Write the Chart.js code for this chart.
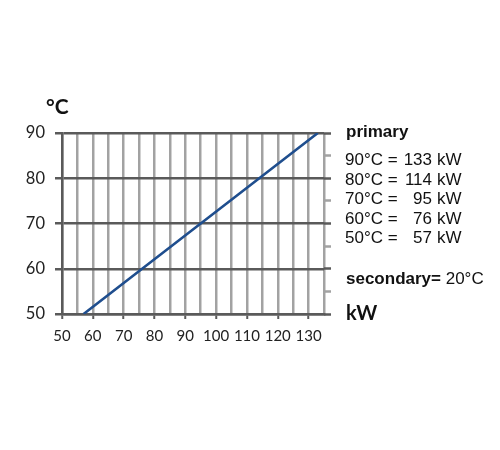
<!DOCTYPE html>
<html>
<head>
<meta charset="utf-8">
<script src="https://cdn.jsdelivr.net/npm/chart.js@4.4.1/dist/chart.umd.min.js"></script>
<style>
    html, body { margin: 0; padding: 0; background: #fff; }
    #wrap { width: 500px; height: 450px; }
</style>
</head>
<body>
<div id="wrap"><canvas id="powerChart" width="500" height="450"></canvas></div>
<script>
// primary temperature (°C) vs. output (kW)
const primaryTemps = [50, 60, 70, 80, 90];
const primaryKw = [57, 76, 95, 114, 133];
const secondaryTemp = 20;

const xMin = 50, xMax = 135;
const yMin = 50, yMax = 90;

const darkGrid = '#5a5a5a';
const lightGrid = '#a2a2a2';

// texts on the right side + unit labels
const sideText = {
    id: 'sideText',
    afterDraw(chart) {
        const c = chart.ctx;
        c.save();
        c.fillStyle = '#111';
        c.textBaseline = 'alphabetic';

        c.font = 'bold 21px Lato';
        c.textAlign = 'left';
        c.fillText('°C', 46, 114);
        c.font = 'bold 20px Lato';
        c.fillText('kW', 346, 320);

        c.font = 'bold 17px "Liberation Sans"';
        c.fillText('primary', 346, 137);

        // rows from hot to cold
        for (let i = primaryTemps.length - 1, row = 0; i >= 0; i--, row++) {
            const y = 165 + row * 19.6;
            c.font = '17px "Liberation Sans"';
            c.textAlign = 'left';
            c.fillText(primaryTemps[i] + '°C =', 345, y);
            c.textAlign = 'right';
            c.fillText(String(primaryKw[i]), 432, y);
            c.textAlign = 'left';
            c.fillText('kW', 437, y);
        }

        c.font = 'bold 17px "Liberation Sans"';
        c.fillText('secondary=', 346, 284);
        const w = c.measureText('secondary=').width;
        c.font = '17px "Liberation Sans"';
        c.fillText(' ' + secondaryTemp + '°C', 346 + w, 284);
        c.restore();
    }
};

const tenColor = (ctx) => (ctx.tick && ctx.tick.value % 10 === 0) ? darkGrid : lightGrid;

const ctx = document.getElementById('powerChart').getContext('2d');
const powerChart = new Chart(ctx, {
    type: 'line',
    data: {
        datasets: [{
            data: primaryKw.map((kw, i) => ({ x: kw, y: primaryTemps[i] })),
            borderColor: '#1f4e8e',
            borderWidth: 2.6,
            pointRadius: 0,
            fill: false,
            tension: 0
        }]
    },
    options: {
        responsive: false,
        animation: false,
        layout: {
            padding: { left: 0, top: 133, right: 169, bottom: 100 }
        },
        plugins: {
            legend: { display: false },
            tooltip: { enabled: false }
        },
        scales: {
            x: {
                type: 'linear',
                min: xMin,
                max: xMax,
                afterFit: (s) => { s.height = 36; },
                ticks: {
                    stepSize: 5,
                    autoSkip: false,
                    maxRotation: 0,
                    padding: 8,
                    color: '#222',
                    font: { family: 'Lato', size: 15 },
                    callback: (v) => v % 10 === 0 && v < xMax ? v : ''
                },
                grid: {
                    color: lightGrid,
                    lineWidth: 2.5,
                    tickLength: 5,
                    tickWidth: 2,
                    tickColor: (ctx) => (ctx.tick && ctx.tick.value % 10 === 0) ? darkGrid : 'transparent'
                },
                border: { color: darkGrid, width: 2.5 }
            },
            y: {
                min: yMin,
                max: yMax,
                afterFit: (s) => { s.width = 62; },
                ticks: {
                    stepSize: 5,
                    padding: 10,
                    color: '#222',
                    font: { family: 'Lato', size: 16.5 },
                    callback: (v) => v % 10 === 0 ? v : ''
                },
                grid: {
                    color: tenColor,
                    lineWidth: 2.5,
                    tickLength: 7,
                    tickWidth: 2.5,
                    tickColor: tenColor
                },
                border: { color: darkGrid, width: 2.5 }
            },
            y2: {
                position: 'right',
                min: yMin,
                max: yMax,
                afterFit: (s) => { s.width = 7; },
                ticks: { stepSize: 5, display: false },
                grid: {
                    drawOnChartArea: false,
                    tickLength: 7,
                    tickWidth: 2.5,
                    tickColor: tenColor
                },
                border: { display: false }
            }
        }
    },
    plugins: [sideText]
});
</script>
</body>
</html>
